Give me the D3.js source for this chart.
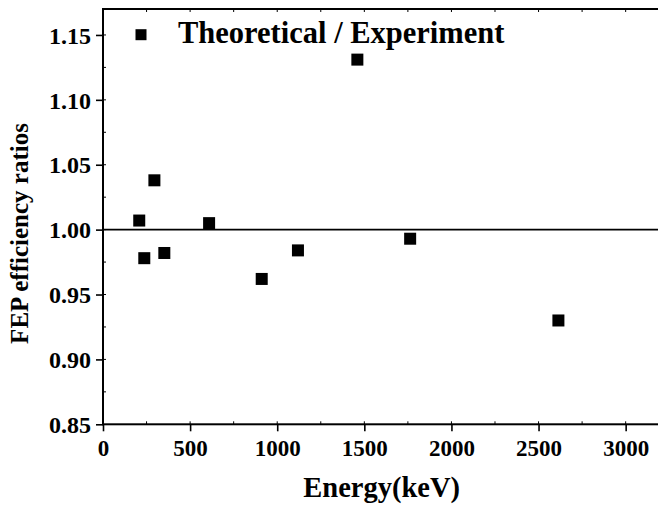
<!DOCTYPE html>
<html>
<head>
<meta charset="utf-8">
<script src="https://cdn.jsdelivr.net/npm/d3@7"></script>
<style>
  html, body { margin: 0; padding: 0; background: #fff; }
  svg { display: block; }
  text { font-family: "Liberation Serif", "Times New Roman", serif; font-weight: bold; fill: #000; }
</style>
</head>
<body>
<svg id="chart" width="658" height="511"></svg>
<script>
// ---- data ----
const energies = [208, 237, 295, 352, 609, 911, 1119, 1460, 1763, 2614];
const ratios   = [1.007, 0.978, 1.038, 0.982, 1.005, 0.962, 0.984, 1.131, 0.993, 0.930];
const xTicks = [0, 500, 1000, 1500, 2000, 2500, 3000];
const yTicks = [0.85, 0.90, 0.95, 1.00, 1.05, 1.10, 1.15];
const seriesName = "Theoretical / Experiment";
const xTitle = "Energy(keV)";
const yTitle = "FEP efficiency ratios";
const refValue = 1.0;

(function () {
const FONT = "Liberation Serif, Times New Roman, serif";
const svg = d3.select("#chart");
const pL = 103, pR = 660.5, pT = 9, pB = 424.3;

const x = d3.scaleLinear().domain([0, 3200]).range([pL, pR]);
const y = d3.scaleLinear().domain([0.85, 1.17]).range([pB, pT]);

const xMinor = d3.range(0, 3201, 250);
const yMinor = d3.range(0.85, 1.171, 0.025);

// bottom axis
const gx = svg.append("g").attr("transform", `translate(0,${pB})`)
  .call(d3.axisBottom(x).tickValues(xTicks).tickFormat(d3.format("d")).tickSize(7).tickSizeOuter(0));
gx.attr("font-family", FONT).attr("font-weight", "bold").attr("font-size", 23);
gx.select(".domain").remove();
gx.selectAll("line").attr("stroke", "#000").attr("stroke-width", 1.6);
gx.selectAll("text").attr("dy", "0").attr("y", 32).attr("fill", "#000");

// left axis
const gy = svg.append("g").attr("transform", `translate(${pL},0)`)
  .call(d3.axisLeft(y).tickValues(yTicks).tickFormat(d3.format(".2f")).tickSize(7).tickSizeOuter(0));
gy.attr("font-family", FONT).attr("font-weight", "bold").attr("font-size", 24);
gy.select(".domain").remove();
gy.selectAll("line").attr("stroke", "#000").attr("stroke-width", 1.6);
gy.selectAll("text").attr("x", -12).attr("dy", "0.34em").attr("fill", "#000");

// minor inward ticks
svg.append("g").selectAll("line").data(xMinor.filter(v => v > 0)).join("line")
  .attr("x1", d => x(d)).attr("x2", d => x(d)).attr("y1", pB).attr("y2", pB - 3)
  .attr("stroke", "#000").attr("stroke-width", 1);
svg.append("g").selectAll("line").data(xMinor.filter(v => v > 0)).join("line")
  .attr("x1", d => x(d)).attr("x2", d => x(d)).attr("y1", pT).attr("y2", pT + 3)
  .attr("stroke", "#000").attr("stroke-width", 1);
svg.append("g").selectAll("line").data(yMinor.filter(v => v > 0.86)).join("line")
  .attr("x1", pL).attr("x2", pL + 3).attr("y1", d => y(d)).attr("y2", d => y(d))
  .attr("stroke", "#000").attr("stroke-width", 1);

// frame
svg.append("rect").attr("x", pL).attr("y", pT).attr("width", pR - pL).attr("height", pB - pT)
  .attr("fill", "none").attr("stroke", "#000").attr("stroke-width", 2);

// reference line
svg.append("line").attr("x1", pL).attr("x2", pR).attr("y1", y(refValue)).attr("y2", y(refValue))
  .attr("stroke", "#000").attr("stroke-width", 1.8);

// points
const sz = 12;
svg.append("g").selectAll("rect").data(energies.map((e, i) => [e, ratios[i]])).join("rect")
  .attr("x", d => x(d[0]) - sz / 2).attr("y", d => y(d[1]) - sz / 2)
  .attr("width", sz).attr("height", sz).attr("fill", "#000");

// legend
svg.append("rect").attr("x", 141 - 5.5).attr("y", 34.7 - 5.5).attr("width", 11).attr("height", 11).attr("fill", "#000");
svg.append("text").attr("x", 178).attr("y", 42.5).attr("font-size", "30.5px").text(seriesName);

// axis titles
svg.append("text").attr("x", (301.7 + 461.7) / 2).attr("y", 497).attr("text-anchor", "middle")
  .attr("font-size", "28.5px").text(xTitle);
svg.append("text").attr("transform", "translate(28,233.5) rotate(-90)").attr("text-anchor", "middle")
  .attr("font-size", "25px").text(yTitle);
})();
</script>
</body>
</html>
